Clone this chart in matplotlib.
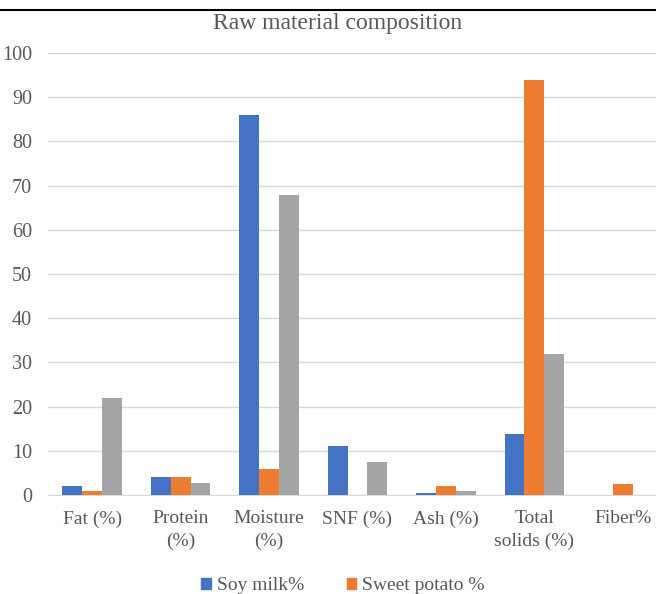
import matplotlib.pyplot as plt
import numpy as np
from matplotlib.lines import Line2D
from matplotlib.patches import Patch

plt.rcParams['font.family'] = ['Liberation Serif', 'DejaVu Serif']

categories = ["Fat (%)", "Protein\n(%)", "Moisture\n(%)", "SNF (%)", "Ash (%)",
              "Total\nsolids (%)", "Fiber%"]
soy_milk = [2, 4, 86, 11, 0.4, 13.8, 0]
sweet_potato = [1, 4, 5.9, 0, 2, 94, 2.5]
third = [22, 2.8, 67.9, 7.5, 1, 31.8, 0]

blue = "#4472C4"
orange = "#ED7D31"
grey = "#A5A5A5"
txt = "#595959"

fig = plt.figure(figsize=(6.56, 5.94), dpi=100)
ax = fig.add_axes([48 / 656, 1 - 495 / 594, 619 / 656, 442 / 594])

x = np.arange(len(categories))
w = 0.225
ax.bar(x - w, soy_milk, w, color=blue, zorder=3)
ax.bar(x, sweet_potato, w, color=orange, zorder=3)
ax.bar(x + w, third, w, color=grey, zorder=3)

ax.set_xlim(-0.5, len(categories) - 0.5)
ax.set_ylim(0, 100)
ax.set_yticks(np.arange(0, 101, 10))
ax.set_xticks(x)
ax.set_xticklabels(categories, fontsize=14, color=txt, linespacing=1.4)
ax.tick_params(axis="y", length=0, pad=11.5, labelsize=14.5, labelcolor=txt)
ax.tick_params(axis="x", length=0, pad=11)
ax.grid(axis="y", color="#D9D9D9", linewidth=1, zorder=0)
for s in ["top", "right", "left"]:
    ax.spines[s].set_visible(False)
ax.spines["bottom"].set_color("#D9D9D9")

fig.text(338 / 656, 1 - 29 / 594, "Raw material composition", ha="center",
         va="baseline", fontsize=17, color=txt)

# rule across the top
fig.add_artist(Line2D([0, 1], [1 - 10 / 594, 1 - 10 / 594], color="black", lw=1.5))

handles = [Patch(color=blue), Patch(color=orange)]
fig.legend(handles, ["Soy milk%", "Sweet potato %"], loc="center",
           bbox_to_anchor=(343 / 656, 1 - 586 / 594), ncol=2, frameon=False,
           fontsize=14, labelcolor=txt, handlelength=0.5, handleheight=0.5,
           handletextpad=0.3, columnspacing=2.2, borderpad=0)

fig.savefig("out.png", dpi=100)
